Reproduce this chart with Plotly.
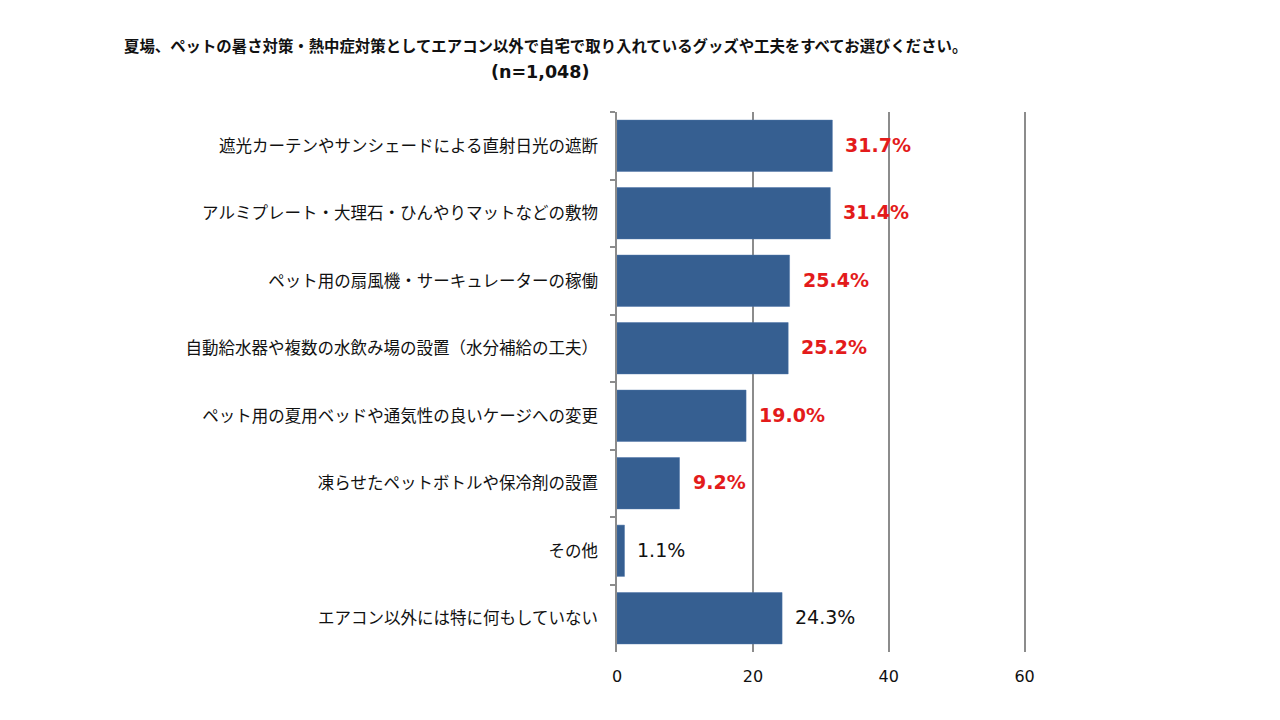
import plotly.graph_objects as go

# data
categories = [
    '遮光カーテンやサンシェードによる直射日光の遮断',
    'アルミプレート・大理石・ひんやりマットなどの敷物',
    'ペット用の扇風機・サーキュレーターの稼働',
    '自動給水器や複数の水飲み場の設置（水分補給の工夫）',
    'ペット用の夏用ベッドや通気性の良いケージへの変更',
    '凍らせたペットボトルや保冷剤の設置',
    'その他',
    'エアコン以外には特に何もしていない',
]
values = [31.7, 31.4, 25.4, 25.2, 19.0, 9.2, 1.1, 24.3]
highlight = [True, True, True, True, True, True, False, False]
x_ticks = [0, 20, 40, 60]

title_text = '夏場、ペットの暑さ対策・熱中症対策としてエアコン以外で自宅で取り入れているグッズや工夫をすべてお選びください。'
n_text = '(n=1,048)'

BAR_COLOR = '#365F91'
GRID_COLOR = '#8C8C8C'
JP_FONT = 'Noto Sans CJK JP'
NUM_FONT = 'DejaVu Sans'

# the page body adds an 8px offset, so margins are set in figure pixels
W, H = 1280, 720
ML, MR, MT, MB = 609, 260, 104, 76
X_MAX = 60.5  # a bit past 60 so the last gridline is drawn

fig = go.Figure()
fig.add_trace(go.Bar(
    x=values,
    y=categories,
    orientation='h',
    marker=dict(color=BAR_COLOR, line=dict(color='#4A72A6', width=0.5)),
    width=0.76,
    hoverinfo='skip',
))

# value labels next to bars
for cat, val, hl in zip(categories, values, highlight):
    txt = f'{val:.1f}%'
    fig.add_annotation(
        x=val, y=cat, xref='x', yref='y',
        text=f'<b>{txt}</b>' if hl else txt,
        showarrow=False, xanchor='left', yanchor='middle',
        xshift=11, yshift=1,
        font=dict(family=NUM_FONT, size=19, color='#E31B1B' if hl else '#111111'),
    )


def px_to_paper(px_x, px_y):
    return (px_x - ML) / (W - ML - MR), (H - px_y - MB) / (H - MT - MB)


# title lines (positions in figure pixels)
tx, ty = px_to_paper(114, 37)
fig.add_annotation(
    x=tx, y=ty, xref='paper', yref='paper', text=f'<b>{title_text}</b>',
    showarrow=False, xanchor='left', yanchor='middle',
    font=dict(family=JP_FONT, size=15.4, color='#111111'),
)
nx, ny = px_to_paper(532, 64)
fig.add_annotation(
    x=nx, y=ny, xref='paper', yref='paper', text=f'<b>{n_text}</b>',
    showarrow=False, xanchor='center', yanchor='middle',
    font=dict(family=NUM_FONT, size=17.5, color='#111111'),
)

fig.update_layout(
    width=W, height=H,
    margin=dict(l=ML, r=MR, t=MT, b=MB, pad=0),
    paper_bgcolor='white', plot_bgcolor='white',
    showlegend=False,
    xaxis=dict(
        range=[0, X_MAX], tickvals=x_ticks, ticks='',
        showgrid=True, gridcolor=GRID_COLOR, gridwidth=1.5,
        zeroline=False, showline=False,
        tickfont=dict(family=NUM_FONT, size=16, color='#111111'),
        ticklabelstandoff=13,
        fixedrange=True,
    ),
    yaxis=dict(
        categoryorder='array', categoryarray=categories,
        autorange='reversed',
        showline=True, linecolor=GRID_COLOR, linewidth=1.5,
        ticks='outside', tickson='boundaries', ticklen=5,
        tickcolor=GRID_COLOR, tickwidth=1.5,
        showgrid=False,
        tickfont=dict(family=JP_FONT, size=16.5, color='#111111'),
        ticklabelstandoff=14,
        fixedrange=True,
    ),
)

fig.write_html('out.html')
